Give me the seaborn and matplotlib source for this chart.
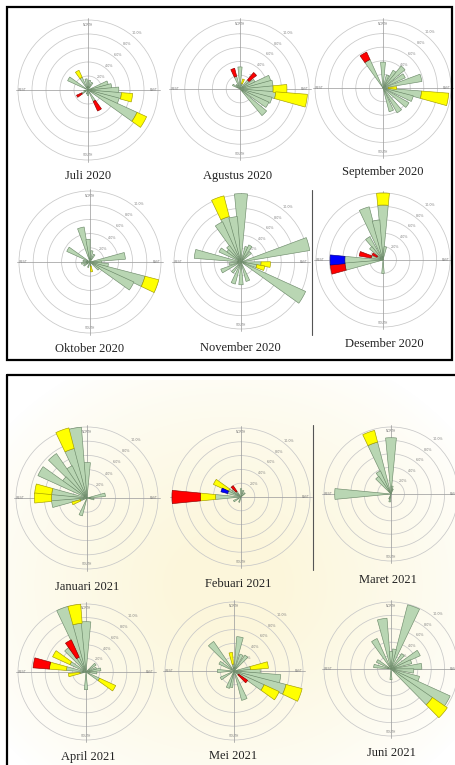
import numpy as np
import matplotlib
matplotlib.use("Agg")
import matplotlib.pyplot as plt
from matplotlib.patches import Rectangle
from matplotlib.lines import Line2D
import seaborn as sns

sns.set_theme(style="white")
plt.rcParams["font.family"] = ["Liberation Serif", "DejaVu Serif"]

# Wind speed classes, stacked outward from the centre
SPEED_CLASSES = ["0.5-2.1 m/s", "2.1-3.6 m/s", "3.6-5.7 m/s", "5.7-8.8 m/s"]
CLASS_COLORS = ["#b9d6b3", "#ffff00", "#ff0000", "#0000ff"]
EDGE_COLORS = ["#6f8c6c", "#a39c00", "#8e0000", "#00008e"]

RING_VALUES = [2, 4, 6, 8, 10]
RING_LABELS = ["2.0%", "4.0%", "6.0%", "8.0%", "10.0%"]
COMPASS = ["NORTH", "EAST", "SOUTH", "WEST"]

# Sector frequencies (%): (direction deg, class 1, class 2, class 3, class 4)
JULI_2020 = [
    (330, 2.0, 1.1, 0, 0), (300, 3.2, 0, 0, 0), (350, 1.6, 0, 0, 0),
    (10, 1.4, 0, 0, 0), (30, 1.2, 0, 0, 0), (70, 3.0, 0, 0, 0),
    (80, 3.4, 0, 0, 0), (90, 4.4, 0, 0, 0), (100, 4.8, 1.6, 0, 0),
    (110, 4.6, 0, 0, 0), (120, 7.7, 1.5, 0, 0), (150, 1.8, 0, 1.5, 0),
    (180, 0.8, 0, 0, 0), (200, 0.6, 0, 0, 0), (240, 1.0, 0, 0.8, 0),
    (260, 0.6, 0, 0, 0),
]
AGUSTUS_2020 = [
    (340, 1.9, 0, 1.2, 0), (0, 3.2, 0, 0, 0), (20, 0.8, 0.7, 0, 0),
    (45, 1.7, 0, 1.4, 0), (60, 2.4, 0, 0, 0), (70, 4.6, 0, 0, 0),
    (80, 4.8, 0, 0, 0), (90, 4.8, 2.0, 0, 0), (100, 5.2, 4.6, 0, 0),
    (110, 4.8, 0, 0, 0), (120, 4.6, 0, 0, 0), (135, 5.0, 0, 0, 0),
    (300, 1.2, 0, 0, 0), (320, 0.8, 0, 0, 0),
]
SEPTEMBER_2020 = [
    (330, 4.6, 0, 1.2, 0), (0, 3.8, 0, 0, 0), (20, 2.0, 0, 0, 0),
    (35, 3.0, 0, 0, 0), (45, 4.2, 0, 0, 0), (60, 3.6, 0, 0, 0),
    (75, 5.8, 0, 0, 0), (90, 0.8, 1.2, 0, 0), (100, 5.7, 4.0, 0, 0),
    (110, 4.6, 0, 0, 0), (125, 4.4, 0, 0, 0), (145, 4.2, 0, 0, 0),
    (160, 3.6, 0, 0, 0),
]
OKTOBER_2020 = [
    (345, 5.0, 0, 0, 0), (355, 3.2, 0, 0, 0), (300, 3.6, 0, 0, 0),
    (10, 1.6, 0, 0, 0), (30, 1.2, 0, 0, 0), (80, 5.0, 0, 0, 0),
    (90, 1.6, 0, 0, 0), (100, 2.6, 0, 0, 0), (110, 8.0, 2.0, 0, 0),
    (120, 6.8, 0, 0, 0), (130, 1.6, 0, 0, 0), (170, 0.6, 0.8, 0, 0),
    (200, 0.8, 0, 0, 0), (240, 1.0, 0, 0, 0), (260, 1.2, 0, 0, 0),
    (280, 1.0, 0, 0, 0),
]
NOVEMBER_2020 = [
    (0, 10.2, 0, 0, 0), (340, 7.0, 3.2, 0, 0), (350, 6.8, 0, 0, 0),
    (330, 6.6, 0, 0, 0), (320, 3.0, 0, 0, 0), (310, 2.6, 0, 0, 0),
    (300, 3.6, 0, 0, 0), (280, 7.0, 0, 0, 0), (20, 2.4, 0, 0, 0),
    (30, 2.8, 0, 0, 0), (45, 2.0, 0, 0, 0), (75, 10.4, 0, 0, 0),
    (95, 3.0, 1.4, 0, 0), (105, 2.4, 1.2, 0, 0), (120, 10.6, 0, 0, 0),
    (160, 3.0, 0, 0, 0), (180, 3.4, 0, 0, 0), (200, 3.4, 0, 0, 0),
    (220, 2.0, 0, 0, 0), (245, 3.2, 0, 0, 0), (260, 1.8, 0, 0, 0),
]
DESEMBER_2020 = [
    (0, 8.2, 1.8, 0, 0), (340, 8.2, 0, 0, 0), (350, 6.0, 0, 0, 0),
    (325, 4.0, 0, 0, 0), (315, 2.6, 0, 0, 0), (10, 2.0, 0, 0, 0),
    (285, 1.8, 0, 1.8, 0), (300, 1.0, 0, 0.8, 0), (270, 5.7, 0, 0, 2.2),
    (260, 5.7, 0, 2.2, 0), (180, 2.0, 0, 0, 0),
]
JANUARI_2021 = [
    (0, 5.0, 0, 0, 0), (350, 10.0, 0, 0, 0), (340, 7.2, 3.0, 0, 0),
    (330, 5.0, 0, 0, 0), (320, 7.6, 0, 0, 0), (310, 4.2, 0, 0, 0),
    (300, 7.6, 0, 0, 0), (280, 5.0, 2.4, 0, 0), (270, 5.0, 2.4, 0, 0),
    (260, 5.0, 0, 0, 0), (250, 1.0, 1.2, 0, 0), (200, 2.6, 0, 0, 0),
    (80, 2.6, 0, 0, 0), (100, 1.0, 0, 0, 0),
]
FEBUARI_2021 = [
    (270, 3.7, 2.2, 4.1, 0), (300, 2.0, 2.4, 0, 0), (290, 2.0, 0, 0, 1.0),
    (320, 1.0, 0, 1.0, 0), (0, 1.2, 0, 0, 0), (20, 1.0, 0, 0, 0),
    (45, 0.8, 0, 0, 0), (240, 1.2, 0, 0, 0), (200, 0.8, 0, 0, 0),
    (310, 1.6, 0, 0, 0),
]
MARET_2021 = [
    (0, 8.4, 0, 0, 0), (340, 8.0, 1.8, 0, 0), (330, 3.8, 0, 0, 0),
    (320, 3.2, 0, 0, 0), (270, 8.4, 0, 0, 0), (10, 1.2, 0, 0, 0),
    (20, 0.8, 0, 0, 0), (190, 1.2, 0, 0, 0), (200, 0.8, 0, 0, 0),
]
APRIL_2021 = [
    (340, 10.0, 0, 0, 0), (350, 7.2, 2.8, 0, 0), (0, 7.4, 0, 0, 0),
    (330, 2.4, 0, 2.8, 0), (320, 4.4, 0, 0, 0), (300, 2.6, 2.8, 0, 0),
    (280, 2.9, 2.5, 2.4, 0), (260, 0.9, 1.7, 0, 0), (120, 2.2, 2.6, 0, 0),
    (50, 1.8, 0, 0, 0), (70, 1.6, 0, 0, 0), (80, 2.2, 0, 0, 0),
    (95, 1.6, 0, 0, 0), (180, 2.6, 0, 0, 0),
]
MEI_2021 = [
    (10, 5.0, 0, 0, 0), (320, 5.2, 0, 0, 0), (350, 1.0, 1.7, 0, 0),
    (25, 2.6, 0, 0, 0), (40, 2.8, 0, 0, 0), (80, 2.4, 2.6, 0, 0),
    (90, 3.8, 0, 0, 0), (100, 6.8, 0, 0, 0), (110, 7.8, 2.4, 0, 0),
    (120, 4.8, 2.4, 0, 0), (130, 0.8, 0, 1.6, 0), (160, 4.4, 0, 0, 0),
    (190, 2.4, 0, 0, 0), (200, 2.6, 0, 0, 0), (240, 2.2, 0, 0, 0),
    (270, 2.4, 0, 0, 0), (300, 2.4, 0, 0, 0),
]
JUNI_2021 = [
    (20, 9.9, 0, 0, 0), (10, 3.0, 0, 0, 0), (350, 7.6, 0, 0, 0),
    (330, 5.0, 0, 0, 0), (300, 2.4, 0, 0, 0), (280, 2.6, 0, 0, 0),
    (0, 2.6, 0, 0, 0), (40, 2.8, 0, 0, 0), (60, 4.8, 0, 0, 0),
    (70, 3.2, 0, 0, 0), (85, 4.6, 0, 0, 0), (95, 3.4, 0, 0, 0),
    (110, 4.4, 0, 0, 0), (120, 9.7, 0, 0, 0), (130, 7.5, 2.7, 0, 0),
    (180, 1.6, 0, 0, 0),
]

MONTHS = ["Juli 2020", "Agustus 2020", "September 2020",
          "Oktober 2020", "November 2020", "Desember 2020",
          "Januari 2021", "Febuari 2021", "Maret 2021",
          "April 2021", "Mei 2021", "Juni 2021"]
ROSES = [JULI_2020, AGUSTUS_2020, SEPTEMBER_2020,
         OKTOBER_2020, NOVEMBER_2020, DESEMBER_2020,
         JANUARI_2021, FEBUARI_2021, MARET_2021,
         APRIL_2021, MEI_2021, JUNI_2021]

# Page layout in pixels (x, y from top-left)
W, H = 456, 765
CENTERS = [(88, 90), (240, 89), (383, 88),
           (90, 262), (241, 262), (383, 260),
           (87, 498), (241, 497), (391, 494),
           (86, 672), (234, 671), (391, 669)]
RADII = [70, 69, 68, 71, 67, 67, 71, 69, 67, 68, 69, 67]
TITLE_POS = [(88, 176), (238, 176), (383, 172),
             (90, 349), (240, 348), (384, 344),
             (87, 587), (238, 584), (388, 580),
             (88, 757), (233, 756), (391, 753)]
R_MAX = 11.0


def px_x(x):
    return x / W


def px_y(y):
    return 1 - y / H


def draw_rose(ax, sectors):
    dirs = np.radians([s[0] for s in sectors])
    bottom = np.zeros(len(sectors))
    for k in range(len(SPEED_CLASSES)):
        vals = np.array([s[k + 1] for s in sectors], dtype=float)
        mask = vals > 0
        if mask.any():
            ax.bar(dirs[mask], vals[mask], width=np.radians(11),
                   bottom=bottom[mask], color=CLASS_COLORS[k],
                   edgecolor=EDGE_COLORS[k], linewidth=0.45, zorder=3,
                   clip_on=False)
        bottom += vals


fig = plt.figure(figsize=(W / 100, H / 100), dpi=100)
fig.patch.set_facecolor("white")

# Soft pale page tint behind the lower panel
bg = fig.add_axes([0, 0, 1, 1], zorder=-5)
bg.set_axis_off()
yy, xx = np.mgrid[0:H, 0:W]
dist = np.sqrt(((xx - 228) / 230.0) ** 2 + ((yy - 585) / 200.0) ** 2)
alpha = np.clip(1.25 - dist, 0, 1) ** 0.8 * 0.75
alpha[yy < 380] = 0
tint = np.zeros((H, W, 4))
tint[..., 0] = 251 / 255
tint[..., 1] = 244 / 255
tint[..., 2] = 208 / 255
tint[..., 3] = alpha
bg.imshow(tint, extent=[0, W, H, 0], aspect="auto", interpolation="bilinear")
bg.set_xlim(0, W)
bg.set_ylim(H, 0)

for sectors, title, (cx, cy), r, (tx, ty) in zip(ROSES, MONTHS, CENTERS, RADII, TITLE_POS):
    ra = r * R_MAX / 10.0
    ax = fig.add_axes([px_x(cx - ra), px_y(cy + ra), 2 * ra / W, 2 * ra / H],
                      projection="polar")
    ax.set_facecolor("none")
    ax.set_theta_zero_location("N")
    ax.set_theta_direction(-1)
    ax.set_ylim(0, R_MAX)
    ax.spines["polar"].set_visible(False)
    ax.set_xticks([])
    ax.set_yticks(RING_VALUES)
    ax.set_yticklabels(RING_LABELS, fontsize=2.4, color="#808080",
                       family="DejaVu Sans")
    ax.set_rlabel_position(38)
    ax.yaxis.grid(True, color="#c8c8c8", linewidth=0.55)
    ax.xaxis.grid(False)
    for th in (0, 0.5 * np.pi, np.pi, 1.5 * np.pi):
        ax.plot([th, th], [0, 10.25], color="#a0a0a0", linewidth=0.55, zorder=1)
    for lab, th in zip(COMPASS, (0, 0.5 * np.pi, np.pi, 1.5 * np.pi)):
        ax.text(th, 9.35, lab, fontsize=2.2, color="#808080", ha="center",
                va="center", family="DejaVu Sans")
    draw_rose(ax, sectors)
    fig.text(px_x(tx), px_y(ty), title, fontsize=9, color="#222222",
             ha="center", va="center")

# Frames and separators
fig.add_artist(Rectangle((px_x(7), px_y(360)), px_x(452) - px_x(7),
                         px_y(7) - px_y(360), fill=False, edgecolor="black",
                         linewidth=1.6, transform=fig.transFigure))
fig.add_artist(Line2D([px_x(7), px_x(456)], [px_y(375), px_y(375)],
                      color="black", linewidth=1.6, transform=fig.transFigure))
fig.add_artist(Line2D([px_x(7), px_x(7)], [px_y(375), px_y(765)],
                      color="black", linewidth=1.6, transform=fig.transFigure))
fig.add_artist(Line2D([px_x(312), px_x(312)], [px_y(190), px_y(335)],
                      color="#555555", linewidth=0.8, transform=fig.transFigure))
fig.add_artist(Line2D([px_x(313), px_x(313)], [px_y(425), px_y(570)],
                      color="#555555", linewidth=0.8, transform=fig.transFigure))

fig.savefig("out.png", dpi=100)
